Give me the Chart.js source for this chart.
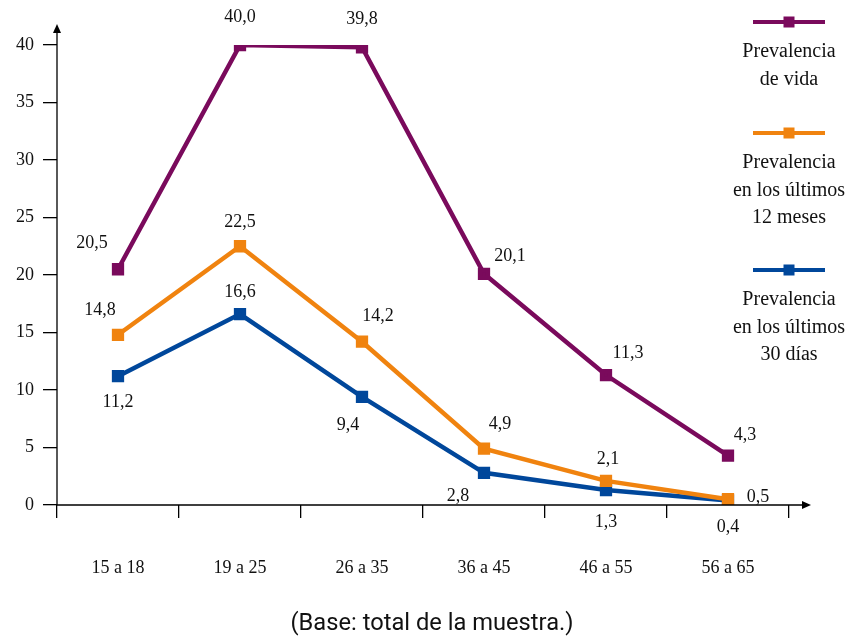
<!DOCTYPE html>
<html>
<head>
<meta charset="utf-8">
<script src="https://cdn.jsdelivr.net/npm/chart.js@4.4.0/dist/chart.umd.min.js"></script>
<style>
  body { margin: 0; background: #fff; }
  #wrap { width: 864px; height: 636px; position: relative; }
</style>
</head>
<body>
<div id="wrap"><canvas id="grafico" width="864" height="636"></canvas></div>
<script>
const categorias = ['15 a 18', '19 a 25', '26 a 35', '36 a 45', '46 a 55', '56 a 65'];
const vida = [20.5, 40.0, 39.8, 20.1, 11.3, 4.3];
const meses12 = [14.8, 22.5, 14.2, 4.9, 2.1, 0.5];
const dias30 = [11.2, 16.6, 9.4, 2.8, 1.3, 0.4];
const leyendas = [
    ['Prevalencia', 'de vida'],
    ['Prevalencia', 'en los últimos', '12 meses'],
    ['Prevalencia', 'en los últimos', '30 días']
];
const colores = ['#7a0a5c', '#f0830f', '#00479b'];

// desplazamiento de cada etiqueta respecto a su punto
const offsets = [
    [[-26, -26], [0, -28], [0, -28], [26, -18], [22, -22], [17, -20]],
    [[-18, -25], [0, -24], [16, -25], [16, -24], [2, -22], [30, -2]],
    [[0, 26], [0, -22], [-14, 28], [-26, 23], [0, 32], [0, 27]]
];

const serif = '"Liberation Serif", "DejaVu Serif", serif';

const dibujos = {
    id: 'dibujos',
    afterDatasetsDraw(chart) {
        const ctx = chart.ctx;
        const x = chart.scales.x, y = chart.scales.y;
        const left = x.left, bottom = y.bottom;
        ctx.save();
        // flechas de los ejes
        ctx.strokeStyle = '#000';
        ctx.fillStyle = '#000';
        ctx.lineWidth = 1.3;
        ctx.beginPath();
        ctx.moveTo(left, bottom);
        ctx.lineTo(left, 28);
        ctx.moveTo(left, bottom);
        ctx.lineTo(805, bottom);
        ctx.stroke();
        ctx.beginPath();
        ctx.moveTo(left, 24); ctx.lineTo(left - 4, 33); ctx.lineTo(left + 4, 33); ctx.closePath();
        ctx.fill();
        ctx.beginPath();
        ctx.moveTo(811, bottom); ctx.lineTo(802, bottom - 4); ctx.lineTo(802, bottom + 4); ctx.closePath();
        ctx.fill();

        // etiquetas de datos
        ctx.font = '18px ' + serif;
        ctx.textAlign = 'center';
        ctx.textBaseline = 'middle';
        ctx.fillStyle = '#111';
        chart.data.datasets.forEach((ds, i) => {
            const meta = chart.getDatasetMeta(i);
            meta.data.forEach((pt, j) => {
                const txt = ds.data[j].toFixed(1).replace('.', ',');
                ctx.fillText(txt, pt.x + offsets[i][j][0], pt.y + offsets[i][j][1]);
            });
        });

        // leyenda
        const lx = 789;
        const lineasY = [22, 133, 270];
        ctx.font = '20px ' + serif;
        leyendas.forEach((lineas, i) => {
            ctx.strokeStyle = colores[i];
            ctx.fillStyle = colores[i];
            ctx.lineWidth = 4;
            ctx.beginPath();
            ctx.moveTo(753, lineasY[i]);
            ctx.lineTo(825, lineasY[i]);
            ctx.stroke();
            ctx.fillRect(lx - 5.5, lineasY[i] - 5.5, 11, 11);
            ctx.fillStyle = '#111';
            lineas.forEach((t, k) => {
                ctx.fillText(t, lx, lineasY[i] + 30 + k * 27.5);
            });
        });

        // nota (fuente condensada)
        const nota = '(Base: total de la muestra.)';
        ctx.font = '24px "Liberation Sans Narrow", "Roboto", sans-serif';
        const w = ctx.measureText(nota).width;
        ctx.translate(432, 624);
        ctx.scale(283 / w, 1);
        ctx.fillText(nota, 0, 0);
        ctx.restore();
    }
};

const series = [vida, meses12, dias30].map((d, i) => ({
    label: leyendas[i].join(' '),
    data: d,
    borderColor: colores[i],
    backgroundColor: colores[i],
    borderWidth: 4.5,
    pointStyle: 'rect',
    pointRadius: 5.5,
    pointHoverRadius: 5.5,
    tension: 0
}));

new Chart(document.getElementById('grafico'), {
    type: 'line',
    data: { labels: categorias, datasets: series },
    options: {
        responsive: false,
        animation: false,
        layout: { padding: { left: 0, top: 45, right: 75, bottom: 0 } },
        plugins: { legend: { display: false }, tooltip: { enabled: false } },
        scales: {
            x: {
                offset: true,
                grid: { drawOnChartArea: false, tickLength: 13, color: '#000', lineWidth: 1.3, offset: true },
                border: { display: false },
                ticks: { color: '#111', font: { family: serif, size: 18 }, padding: 39 },
                afterFit(s) { s.height = 131; }
            },
            y: {
                min: 0,
                max: 40,
                grid: { drawOnChartArea: false, tickLength: 14, color: '#000', lineWidth: 1.3 },
                border: { display: false },
                ticks: { stepSize: 5, color: '#111', font: { family: serif, size: 18 }, padding: 9 },
                afterFit(s) { s.width = 57; }
            }
        }
    },
    plugins: [dibujos]
});
</script>
</body>
</html>
